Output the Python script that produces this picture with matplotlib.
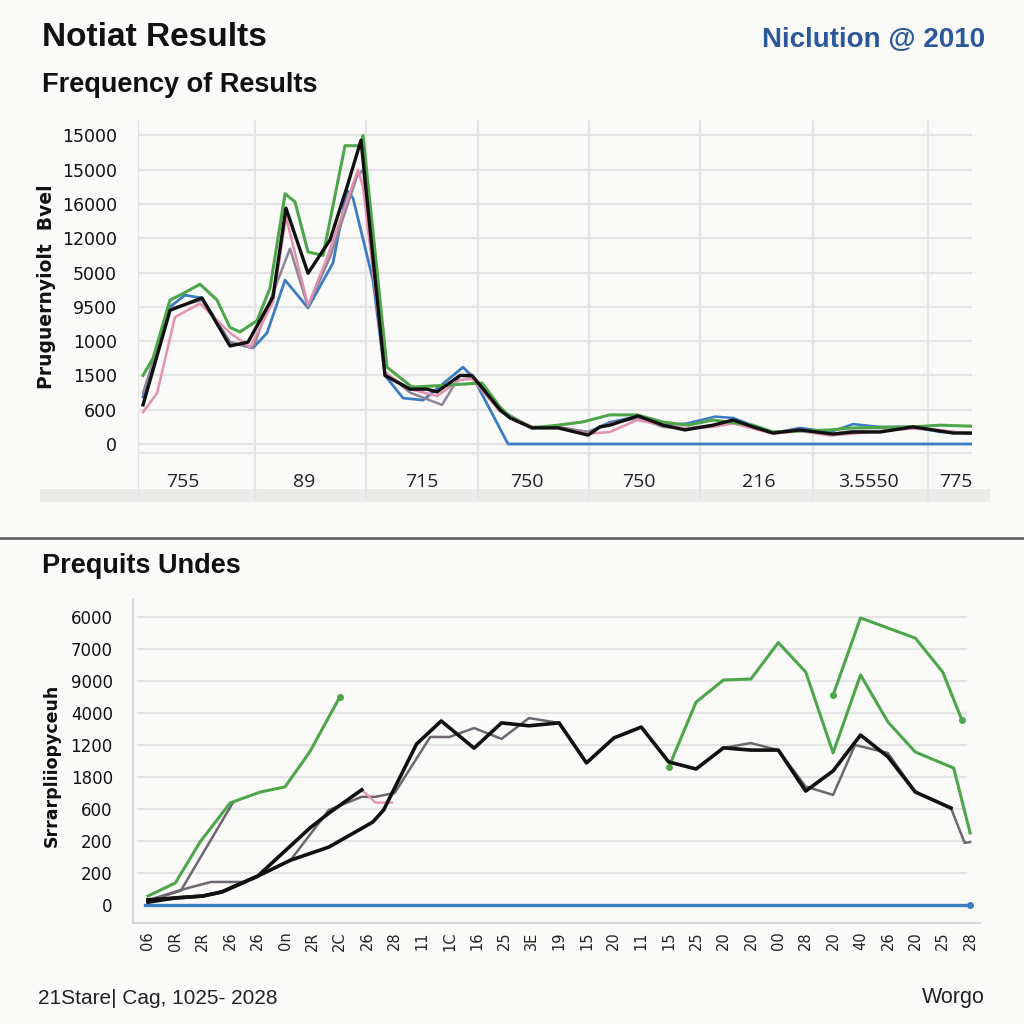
import matplotlib
matplotlib.use("Agg")
import matplotlib.pyplot as plt
import numpy as np
from matplotlib.lines import Line2D
from matplotlib.patches import Rectangle

W = H = 1024
BG = "#fafaf8"

# ---------------- data: top chart (x in cell units, y in tick-level units) ----------------
top_ytick_labels = ["0", "600", "1500", "1000", "9500", "5000", "12000", "16000", "15000", "15000"]
top_xcat_labels = ["755", "89", "715", "750", "750", "216", "3.5550", "775"]
top_xcat_pos = [0.40, 1.48, 2.53, 3.47, 4.47, 5.54, 6.52, 7.30]
top_vgrid = [0.0, 1.045, 2.036, 3.036, 4.027, 5.018, 6.027, 7.054]

black_x = [0.045, 0.286, 0.571, 0.821, 0.982, 1.205, 1.321, 1.518, 1.714, 1.866, 1.991, 2.205, 2.429,
           2.580, 2.670, 2.875, 2.982, 3.232, 3.321, 3.518, 3.75, 4.018, 4.125, 4.214, 4.464, 4.688,
           4.884, 5.134, 5.313, 5.491, 5.670, 5.911, 6.205, 6.384, 6.625, 6.920, 7.098, 7.277, 7.446]
black_y = [1.14, 3.9, 4.26, 2.86, 2.97, 4.29, 6.88, 4.98, 5.95, 7.5, 8.86, 2.0, 1.6,
           1.6, 1.52, 2.0, 2.0, 1.0, 0.76, 0.47, 0.47, 0.26, 0.5, 0.55, 0.82, 0.55,
           0.41, 0.55, 0.7, 0.5, 0.32, 0.41, 0.29, 0.35, 0.35, 0.5, 0.41, 0.32, 0.32]

green_x = [0.045, 0.134, 0.286, 0.375, 0.554, 0.705, 0.821, 0.911, 1.063, 1.179, 1.313, 1.402, 1.518,
           1.652, 1.848, 1.982, 2.009, 2.223, 2.446, 2.670, 3.071, 3.232, 3.321, 3.518, 3.75, 3.964,
           4.214, 4.455, 4.688, 4.911, 5.134, 5.491, 5.670, 6.179, 6.384, 6.920, 7.161, 7.446]
green_y = [2.0, 2.5, 4.2, 4.34, 4.66, 4.2, 3.4, 3.27, 3.6, 4.55, 7.3, 7.06, 5.6,
           5.5, 8.7, 8.7, 9.0, 2.24, 1.66, 1.7, 1.78, 1.08, 0.8, 0.47, 0.55, 0.64,
           0.85, 0.85, 0.64, 0.55, 0.7, 0.55, 0.35, 0.41, 0.47, 0.5, 0.55, 0.52]

blueA_x = [0.045, 0.286, 0.420, 0.571, 0.821, 1.027, 1.152, 1.313, 1.518, 1.741, 1.866, 1.920, 2.098,
           2.205, 2.366, 2.545, 2.902, 2.991, 3.304, 7.446]
blueA_y = [1.37, 4.0, 4.34, 4.26, 2.97, 2.8, 3.24, 4.78, 3.97, 5.28, 7.4, 7.17, 4.78,
           2.0, 1.34, 1.28, 2.24, 1.95, 0.0, 0.0]

blueB_x = [3.071, 3.232, 3.518, 3.75, 4.018, 4.214, 4.455, 4.688, 4.902, 5.152, 5.313, 5.670, 5.911,
           6.179, 6.384, 6.625, 6.920, 7.161, 7.446]
blueB_y = [1.7, 1.0, 0.47, 0.47, 0.35, 0.64, 0.8, 0.55, 0.6, 0.8, 0.76, 0.32, 0.47,
           0.35, 0.58, 0.5, 0.5, 0.35, 0.32]

pink_x = [0.045, 0.170, 0.330, 0.554, 0.821, 1.0, 1.205, 1.321, 1.518, 1.670, 1.964, 2.009, 2.205,
          2.429, 2.670, 2.875, 2.982, 3.232, 3.518, 3.75, 4.018, 4.214, 4.455, 4.688, 4.911, 5.134,
          5.313, 5.670, 5.911, 6.179, 6.384, 6.625, 6.920, 7.161, 7.446]
pink_y = [0.93, 1.48, 3.7, 4.1, 3.24, 2.83, 4.14, 6.62, 4.05, 5.28, 8.0, 7.5, 2.07,
          1.6, 1.4, 1.87, 1.9, 0.95, 0.5, 0.47, 0.3, 0.35, 0.7, 0.55, 0.45, 0.5,
          0.6, 0.3, 0.38, 0.25, 0.3, 0.38, 0.45, 0.4, 0.3]

grey_x = [0.045, 0.286, 0.571, 0.821, 1.027, 1.205, 1.357, 1.518, 1.714, 1.955, 2.009, 2.205, 2.429,
          2.714, 2.875, 2.982, 3.232, 3.518, 3.75, 4.018, 4.214, 4.464, 4.688, 4.884, 5.134, 5.313,
          5.491, 5.670, 5.911, 6.205, 6.384, 6.625, 6.920, 7.098, 7.277, 7.446]
grey_y = [1.49, 3.95, 4.2, 2.97, 2.8, 4.4, 5.7, 4.0, 5.45, 7.8, 8.0, 2.1, 1.5,
          1.14, 2.0, 1.95, 0.95, 0.5, 0.5, 0.35, 0.6, 0.75, 0.5, 0.45, 0.55, 0.65,
          0.5, 0.35, 0.42, 0.3, 0.38, 0.38, 0.48, 0.42, 0.35, 0.3]

# ---------------- data: bottom chart (x = category index, y in tick-level units) ----------------
bot_ytick_labels = ["0", "200", "200", "600", "1800", "1200", "4000", "9000", "7000", "6000"]
bot_xtick_labels = ["06", "0R", "2R", "26", "26", "0n", "2R", "2C", "26", "28", "11", "1C", "16",
                    "25", "3E", "19", "15", "20", "11", "15", "25", "20", "20", "00", "28", "20",
                    "40", "26", "20", "25", "28"]

b_blue_x = [-0.1, 30.0]
b_blue_y = [0.0, 0.0]

b_greenA_x = [0, 1, 1.9, 3, 4.1, 5, 5.9, 7]
b_greenA_y = [0.28, 0.69, 1.97, 3.19, 3.53, 3.69, 4.78, 6.5]

b_greenB_x = [19, 20, 21, 22, 23, 24, 25, 26, 27, 28, 29.4, 30]
b_greenB_y = [4.3, 6.34, 7.03, 7.06, 8.2, 7.28, 4.75, 7.19, 5.72, 4.78, 4.28, 2.25]

b_greenC_x = [25, 26, 28, 29, 29.7]
b_greenC_y = [6.56, 8.97, 8.34, 7.28, 5.78]

b_black1_x = [0, 1, 2, 2.7, 4, 5.9, 6.6, 7.8]
b_black1_y = [0.16, 0.22, 0.28, 0.41, 0.9, 2.4, 2.87, 3.6]

b_black2_x = [0, 1, 2, 2.7, 4, 5.2, 6.6, 8.2, 8.6, 9.8, 10.7, 11.9, 12.9, 13.9, 15, 16, 17, 18,
              19, 20, 21, 22, 23, 24, 25, 26, 27, 28, 29.3]
b_black2_y = [0.09, 0.22, 0.28, 0.41, 0.9, 1.4, 1.81, 2.59, 2.97, 5.03, 5.75, 4.9, 5.69, 5.6,
              5.69, 4.44, 5.22, 5.56, 4.47, 4.25, 4.91, 4.84, 4.84, 3.56, 4.19, 5.31, 4.63, 3.53, 3.03]

b_grey_x = [0, 1.2, 2.3, 3.5, 4, 5.2, 6.6, 7.8, 8.3, 9, 10.3, 11, 11.9, 12.9, 13.9, 15, 16, 17, 18,
            19, 20, 21, 22, 23, 24, 25, 25.8, 27, 28, 29.3, 29.8, 30]
b_grey_y = [0.15, 0.47, 0.72, 0.72, 0.9, 1.4, 2.97, 3.38, 3.38, 3.5, 5.25, 5.25, 5.53, 5.19, 5.84,
            5.69, 4.44, 5.22, 5.56, 4.47, 4.25, 4.91, 5.06, 4.84, 3.7, 3.44, 5.0, 4.75, 3.53, 3.03,
            1.94, 1.97]

b_grey2_x = [0, 1.2, 3.1]
b_grey2_y = [0.12, 0.45, 3.2]

b_pink_x = [7.8, 8.3, 8.9]
b_pink_y = [3.6, 3.2, 3.2]

# ---------------- styles ----------------
C_GREEN = "#4ea64a"
C_BLUE = "#3b7cc4"
C_PINK = "#e291ae"
C_GREY = "#8e8496"
C_DGREY = "#6e6670"
C_BLACK = "#111111"
GRID = "#e4e4e4"

plt.rcParams["font.family"] = ["DejaVu Sans"]

fig = plt.figure(figsize=(W / 100, H / 100), dpi=100, facecolor=BG)


def rect(l, t, r, b):
    return [l / W, 1 - b / H, (r - l) / W, (b - t) / H]


# ---------------- headers ----------------
fig.text(42 / W, 1 - 38 / H, "Notiat Results", fontsize=24, fontweight="bold",
         family="Liberation Sans", va="center", ha="left", color="#111")
fig.text(985 / W, 1 - 40 / H, "Niclution @ 2010", fontsize=20, fontweight="bold",
         family="Liberation Sans", va="center", ha="right", color="#2b589b")
fig.text(42 / W, 1 - 85 / H, "Frequency of Results", fontsize=19.5, fontweight="bold",
         family="Liberation Sans", va="center", ha="left", color="#111")

# shadow band under the top chart
fig.add_artist(Rectangle((40 / W, 1 - 502 / H), 950 / W, 13 / H, transform=fig.transFigure,
                         facecolor="#ebebe9", edgecolor="none", zorder=0))

# ---------------- top chart ----------------
ax1 = fig.add_axes(rect(138, 120, 972, 500))
ax1.set_facecolor("none")
ax1.set_xlim(0, 7.446)
ax1.set_ylim(-1.633, 9.45)
for s in ax1.spines.values():
    s.set_visible(False)
for k in range(10):
    ax1.axhline(k, color=GRID, lw=1.6, zorder=0)
ax1.axhline(-0.26, color=GRID, lw=1.6, zorder=0)
for g in top_vgrid:
    ax1.axvline(g, color=GRID, lw=1.6, zorder=0)

ax1.plot(blueA_x, blueA_y, color=C_BLUE, lw=2.0, zorder=2)
ax1.plot(blueB_x, blueB_y, color=C_BLUE, lw=1.8, zorder=2)
ax1.plot(grey_x, grey_y, color=C_GREY, lw=1.8, zorder=3)
ax1.plot(pink_x, pink_y, color=C_PINK, lw=1.8, zorder=3)
ax1.plot(green_x, green_y, color=C_GREEN, lw=2.2, zorder=4)
ax1.plot(black_x, black_y, color=C_BLACK, lw=2.4, zorder=5)

ax1.set_yticks(range(10))
ax1.set_yticklabels(top_ytick_labels, fontsize=12.5, color="#111")
ax1.tick_params(axis="y", length=0, pad=15)
ax1.set_xticks([])
for p, lab in zip(top_xcat_pos, top_xcat_labels):
    ax1.text(p, -1.11, lab, ha="center", va="center", fontsize=14, color="#222",
             family="Open Sans")
fig.text(47 / W, 1 - 287 / H, "Pruguernyiolt  Bvel", rotation=90, fontsize=13.5,
         fontweight="bold", va="center", ha="center", color="#111")

# separator
fig.add_artist(Line2D([0, 1], [1 - 538 / H, 1 - 538 / H], color="#666666", lw=2))

fig.text(42 / W, 1 - 566 / H, "Prequits Undes", fontsize=19.5, fontweight="bold",
         family="Liberation Sans", va="center", ha="left", color="#111")

# ---------------- bottom chart ----------------
ax2 = fig.add_axes(rect(133, 600, 980, 923))
ax2.set_facecolor(BG)
ax2.set_xlim(-0.547, 30.36)
ax2.set_ylim(-0.5625, 9.53)
for n in ["top", "right"]:
    ax2.spines[n].set_visible(False)
for n in ["left", "bottom"]:
    ax2.spines[n].set_color("#d8d8d8")
    ax2.spines[n].set_linewidth(1.5)
ax2.hlines(range(1, 10), -0.4, 29.9, color=GRID, lw=1.6, zorder=0)

ax2.plot(b_blue_x, b_blue_y, color=C_BLUE, lw=2.4, zorder=2)
ax2.plot(b_blue_x[-1:], b_blue_y[-1:], "o", color=C_BLUE, ms=4, zorder=2)
ax2.plot(b_grey2_x, b_grey2_y, color=C_DGREY, lw=1.8, zorder=3)
ax2.plot(b_grey_x, b_grey_y, color=C_DGREY, lw=1.8, zorder=3)
ax2.plot(b_pink_x, b_pink_y, color=C_PINK, lw=1.6, zorder=3)
ax2.plot(b_greenA_x, b_greenA_y, color=C_GREEN, lw=2.2, zorder=4)
ax2.plot(b_greenA_x[-1:], b_greenA_y[-1:], "o", color=C_GREEN, ms=4, zorder=4)
ax2.plot(b_greenB_x, b_greenB_y, color=C_GREEN, lw=2.2, zorder=4)
ax2.plot(b_greenB_x[:1], b_greenB_y[:1], "o", color=C_GREEN, ms=4, zorder=4)
ax2.plot(b_greenC_x, b_greenC_y, color=C_GREEN, lw=2.2, zorder=4)
ax2.plot([b_greenC_x[0], b_greenC_x[-1]], [b_greenC_y[0], b_greenC_y[-1]], "o",
         color=C_GREEN, ms=4, zorder=4)
ax2.plot(b_black1_x, b_black1_y, color=C_BLACK, lw=2.6, zorder=5)
ax2.plot(b_black2_x, b_black2_y, color=C_BLACK, lw=2.6, zorder=5)

ax2.set_yticks(range(10))
ax2.set_yticklabels(bot_ytick_labels, fontsize=12, color="#111")
ax2.tick_params(axis="y", length=0, pad=14.5)
ax2.set_xticks(range(len(bot_xtick_labels)))
ax2.set_xticklabels(bot_xtick_labels, rotation=90, fontsize=10.5, color="#222")
ax2.tick_params(axis="x", length=0, pad=6)
fig.text(52 / W, 1 - 765 / H, "Srrarpliiopyceuh", rotation=90, fontsize=12.5,
         fontweight="bold", va="center", ha="center", color="#111")

# ---------------- footer ----------------
fig.text(38 / W, 1 - 998 / H, "21Stare| Cag, 1025- 2028", fontsize=15,
         family="Liberation Sans", va="center", ha="left", color="#222")
fig.text(985 / W, 1 - 998 / H, "Worgo", fontsize=15.5,
         family="Liberation Sans", va="center", ha="right", color="#222")

fig.savefig("out.png", dpi=100, facecolor=BG)
